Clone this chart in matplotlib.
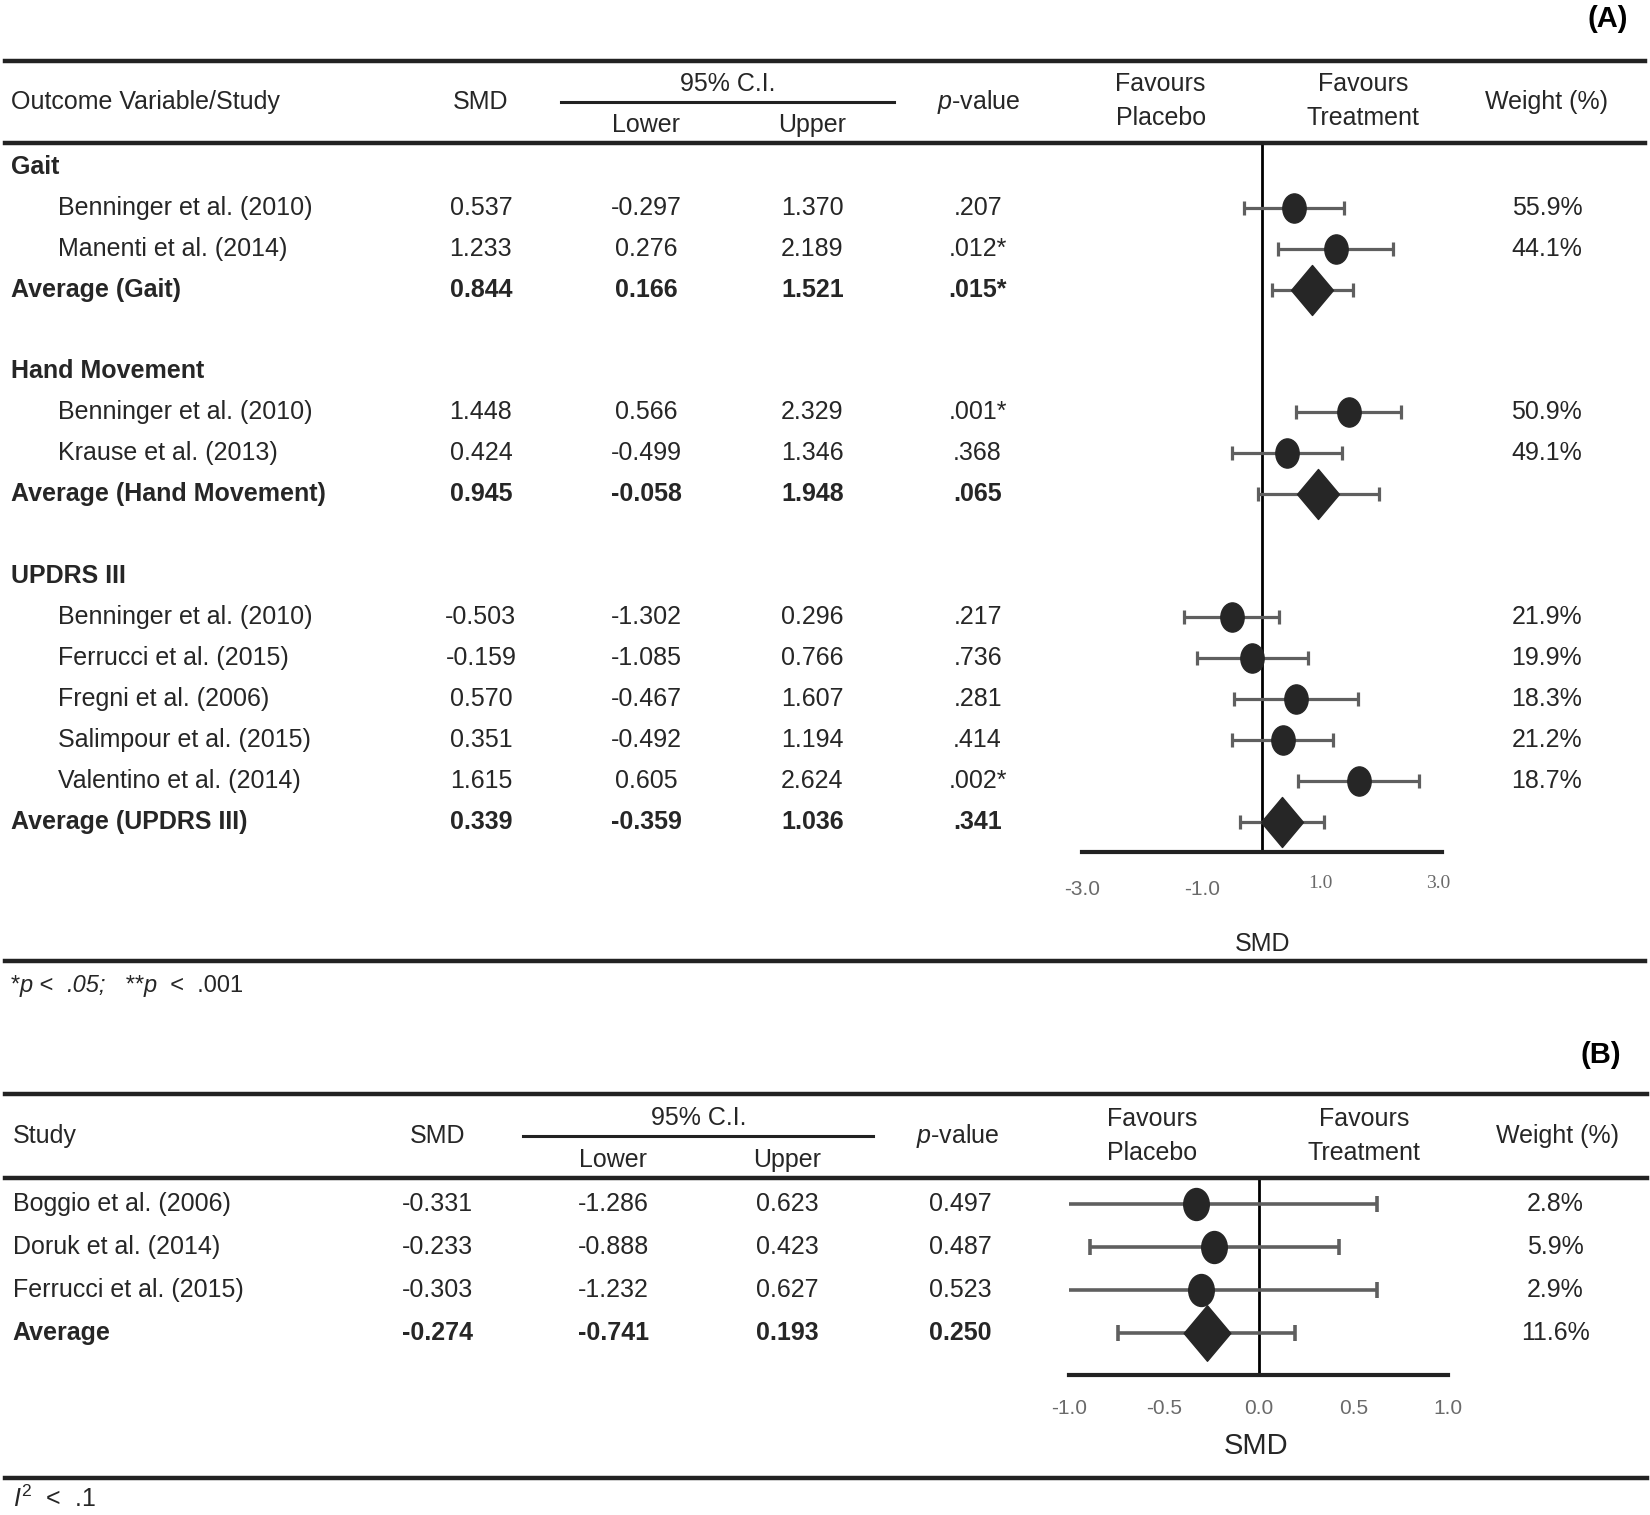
import numpy as np
import matplotlib
matplotlib.use("Agg")
import matplotlib.pyplot as plt
from matplotlib.lines import Line2D
from matplotlib.path import Path
from matplotlib.transforms import blended_transform_factory, offset_copy

plt.rcParams['font.family'] = ['Liberation Sans', 'DejaVu Sans']
plt.rcParams['mathtext.fontset'] = 'custom'
plt.rcParams['mathtext.rm'] = 'Liberation Sans'
plt.rcParams['mathtext.it'] = 'Liberation Sans:italic'
plt.rcParams['mathtext.bf'] = 'Liberation Sans:bold'

# ---- data: panel A ----
gait_studies = ["Benninger et al. (2010)", "Manenti et al. (2014)"]
gait_smd = [0.537, 1.233]
gait_lower = [-0.297, 0.276]
gait_upper = [1.370, 2.189]
gait_p = [".207", ".012*"]
gait_weight = ["55.9%", "44.1%"]
gait_avg = [0.844, 0.166, 1.521]
gait_avg_p = ".015*"

hand_studies = ["Benninger et al. (2010)", "Krause et al. (2013)"]
hand_smd = [1.448, 0.424]
hand_lower = [0.566, -0.499]
hand_upper = [2.329, 1.346]
hand_p = [".001*", ".368"]
hand_weight = ["50.9%", "49.1%"]
hand_avg = [0.945, -0.058, 1.948]
hand_avg_p = ".065"

updrs_studies = ["Benninger et al. (2010)", "Ferrucci et al. (2015)", "Fregni et al. (2006)",
                 "Salimpour et al. (2015)", "Valentino et al. (2014)"]
updrs_smd = [-0.503, -0.159, 0.570, 0.351, 1.615]
updrs_lower = [-1.302, -1.085, -0.467, -0.492, 0.605]
updrs_upper = [0.296, 0.766, 1.607, 1.194, 2.624]
updrs_p = [".217", ".736", ".281", ".414", ".002*"]
updrs_weight = ["21.9%", "19.9%", "18.3%", "21.2%", "18.7%"]
updrs_avg = [0.339, -0.359, 1.036]
updrs_avg_p = ".341"

sections = [
    ("Gait", gait_studies, gait_smd, gait_lower, gait_upper, gait_p, gait_weight, gait_avg, gait_avg_p),
    ("Hand Movement", hand_studies, hand_smd, hand_lower, hand_upper, hand_p, hand_weight, hand_avg, hand_avg_p),
    ("UPDRS III", updrs_studies, updrs_smd, updrs_lower, updrs_upper, updrs_p, updrs_weight, updrs_avg, updrs_avg_p),
]

# ---- data: panel B ----
b_studies = ["Boggio et al. (2006)", "Doruk et al. (2014)", "Ferrucci et al. (2015)"]
b_smd = [-0.331, -0.233, -0.303]
b_lower = [-1.286, -0.888, -1.232]
b_upper = [0.623, 0.423, 0.627]
b_p = ["0.497", "0.487", "0.523"]
b_weight = ["2.8%", "5.9%", "2.9%"]
b_avg = [-0.274, -0.741, 0.193]
b_avg_p = "0.250"
b_avg_weight = "11.6%"

a_ticks = [-3.0, -1.0, 1.0, 3.0]
b_ticks = [-1.0, -0.5, 0.0, 0.5, 1.0]

# ---- layout helpers (reference pixel grid) ----
W, H = 1568.0, 1440.0
def fx(x):
    return x / W
def fy(y):
    return 1 - y / H

TXT = '#262626'
ERR = '#5f5f5f'
MK = '#262626'
FS = 18

circ = Path(Path.unit_circle().vertices * np.array([0.8, 1.0]), Path.unit_circle().codes)
diam = Path([(-0.42, 0), (0, 0.5), (0.42, 0), (0, -0.5), (-0.42, 0)],
            [Path.MOVETO, Path.LINETO, Path.LINETO, Path.LINETO, Path.CLOSEPOLY])

fig = plt.figure(figsize=(16.5, 15.15), dpi=100)
renderer = fig.canvas.get_renderer()

def hline(y, x0, x1, lw=3.2):
    fig.add_artist(Line2D([fx(x0), fx(x1)], [fy(y), fy(y)], transform=fig.transFigure,
                          color='#222222', lw=lw))

def ftext(x, y, s, **kw):
    kw.setdefault('fontsize', FS)
    kw.setdefault('color', TXT)
    kw.setdefault('va', 'center')
    return fig.text(fx(x), fy(y), s, **kw)

def pieces(x, y, parts, fontsize=17):
    # lay out text runs with mixed styles one after another
    tr = fig.transFigure
    for s, style in parts:
        t = fig.text(fx(x), fy(y), s, transform=tr, fontsize=fontsize, color=TXT,
                     va='center', ha='left', fontstyle=style)
        ext = t.get_window_extent(renderer)
        tr = offset_copy(tr, fig=fig, x=ext.width, y=0, units='dots')

# ================= Panel A =================
ftext(1547, 18, "(A)", ha='right', fontweight='bold', fontsize=21, color='black')
hline(58, 5, 1563)
hline(136, 5, 1563)
ftext(10, 97, "Outcome Variable/Study", ha='left')
ftext(457, 97, "SMD", ha='center')
ftext(692, 80, "95% C.I.", ha='center')
hline(97, 533, 850, lw=2.2)
ftext(614, 119, "Lower", ha='center')
ftext(772, 119, "Upper", ha='center')
ftext(930, 97, "$p$-value", ha='center')
ftext(1103, 96, "Favours\nPlacebo", ha='center', linespacing=1.55)
ftext(1295, 96, "Favours\nTreatment", ha='center', linespacing=1.55)
ftext(1470, 97, "Weight (%)", ha='center')

row0, step = 158.5, 38.9
axA = fig.add_axes([fx(1028), fy(810), (1370 - 1028) / W, (810 - 136) / H])
axA.set_xlim(-3, 3)
axA.set_ylim((810 - row0) / step, (136 - row0) / step)
trA = blended_transform_factory(fig.transFigure, axA.transData)

def rowtext(ax_tr, x, r, s, **kw):
    kw.setdefault('fontsize', FS)
    kw.setdefault('color', TXT)
    fig.text(fx(x), r, s, transform=ax_tr, va='center', **kw)

r = 0
for name, studies, smd, lo, up, pv, wt, avg, avg_p in sections:
    rowtext(trA, 10, r, name, ha='left', fontweight='bold')
    r += 1
    rows = np.arange(r, r + len(studies))
    for i, rr in enumerate(rows):
        rowtext(trA, 55, rr, studies[i], ha='left')
        rowtext(trA, 457, rr, f"{smd[i]:.3f}", ha='center')
        rowtext(trA, 614, rr, f"{lo[i]:.3f}", ha='center')
        rowtext(trA, 772, rr, f"{up[i]:.3f}", ha='center')
        rowtext(trA, 929, rr, pv[i], ha='center')
        rowtext(trA, 1470, rr, wt[i], ha='center')
    smd_a = np.array(smd)
    axA.errorbar(smd_a, rows, xerr=[smd_a - np.array(lo), np.array(up) - smd_a], fmt='none',
                 ecolor=ERR, elinewidth=2.3, capsize=5, capthick=2.3, zorder=2)
    axA.plot(smd_a, rows, ls='none', marker=circ, ms=21, color=MK, zorder=3)
    r += len(studies)
    rowtext(trA, 10, r, f"Average ({name})", ha='left', fontweight='bold')
    rowtext(trA, 457, r, f"{avg[0]:.3f}", ha='center', fontweight='bold')
    rowtext(trA, 614, r, f"{avg[1]:.3f}", ha='center', fontweight='bold')
    rowtext(trA, 772, r, f"{avg[2]:.3f}", ha='center', fontweight='bold')
    rowtext(trA, 929, r, avg_p, ha='center', fontweight='bold')
    axA.errorbar([avg[0]], [r], xerr=[[avg[0] - avg[1]], [avg[2] - avg[0]]], fmt='none',
                 ecolor=ERR, elinewidth=2.3, capsize=5, capthick=2.3, zorder=2)
    axA.plot([avg[0]], [r], ls='none', marker=diam, ms=36, color=MK, zorder=3)
    r += 2

axA.axvline(0, color='black', lw=2, zorder=1)
for s in ['top', 'left', 'right']:
    axA.spines[s].set_visible(False)
axA.spines['bottom'].set_linewidth(3)
axA.spines['bottom'].set_color('#222222')
axA.set_xticks([])
axA.set_yticks([])
axA.patch.set_alpha(0)
trAx = blended_transform_factory(axA.transData, fig.transFigure)
for t in a_ticks:
    if t < 0:
        fig.text(t, fy(845), f"{t:.1f}", transform=trAx, ha='center', va='center',
                 fontsize=15, color='#6a6a6a')
    else:
        fig.text(t * 0.98, fy(840), f"{t:.1f}", transform=trAx, ha='center', va='center',
                 fontsize=14, color='#6a6a6a', family='Liberation Serif')
ftext(1200, 897, "SMD", ha='center')
hline(913, 5, 1563)
pieces(10, 937, [("*", 'normal'), ("p", 'italic'), (" <  ", 'normal'), (".05;", 'italic'),
                 ("   **", 'normal'), ("p", 'italic'), ("  <  .001", 'normal')])

# ================= Panel B =================
ftext(1541, 1003, "(B)", ha='right', fontweight='bold', fontsize=21, color='black')
hline(1040, 5, 1565)
hline(1120, 5, 1565)
ftext(12, 1080, "Study", ha='left')
ftext(416, 1080, "SMD", ha='center')
ftext(664, 1063, "95% C.I.", ha='center')
hline(1080, 497, 830, lw=2.2)
ftext(583, 1103, "Lower", ha='center')
ftext(748, 1103, "Upper", ha='center')
ftext(910, 1080, "$p$-value", ha='center')
ftext(1095, 1080, "Favours\nPlacebo", ha='center', linespacing=1.55)
ftext(1296, 1080, "Favours\nTreatment", ha='center', linespacing=1.55)
ftext(1480, 1080, "Weight (%)", ha='center')

b0, bstep = 1144.5, 40.7
axB = fig.add_axes([fx(1016), fy(1307), (1376 - 1016) / W, (1307 - 1120) / H])
axB.set_xlim(-1, 1)
axB.set_ylim((1307 - b0) / bstep, (1120 - b0) / bstep)
trB = blended_transform_factory(fig.transFigure, axB.transData)
rowsB = np.arange(len(b_studies))
for i, rr in enumerate(rowsB):
    rowtext(trB, 12, rr, b_studies[i], ha='left')
    rowtext(trB, 416, rr, f"{b_smd[i]:.3f}", ha='center')
    rowtext(trB, 583, rr, f"{b_lower[i]:.3f}", ha='center')
    rowtext(trB, 748, rr, f"{b_upper[i]:.3f}", ha='center')
    rowtext(trB, 913, rr, b_p[i], ha='center')
    rowtext(trB, 1478, rr, b_weight[i], ha='center')
ra = len(b_studies)
rowtext(trB, 12, ra, "Average", ha='left', fontweight='bold')
rowtext(trB, 416, ra, f"{b_avg[0]:.3f}", ha='center', fontweight='bold')
rowtext(trB, 583, ra, f"{b_avg[1]:.3f}", ha='center', fontweight='bold')
rowtext(trB, 748, ra, f"{b_avg[2]:.3f}", ha='center', fontweight='bold')
rowtext(trB, 913, ra, b_avg_p, ha='center', fontweight='bold')
rowtext(trB, 1478, ra, b_avg_weight, ha='center')

bs = np.array(b_smd)
axB.errorbar(bs, rowsB, xerr=[bs - np.array(b_lower), np.array(b_upper) - bs], fmt='none',
             ecolor=ERR, elinewidth=2.6, capsize=5.5, capthick=2.6, zorder=2)
axB.plot(bs, rowsB, ls='none', marker=circ, ms=23, color=MK, zorder=3)
axB.errorbar([b_avg[0]], [ra], xerr=[[b_avg[0] - b_avg[1]], [b_avg[2] - b_avg[0]]], fmt='none',
             ecolor=ERR, elinewidth=2.6, capsize=5.5, capthick=2.6, zorder=2)
axB.plot([b_avg[0]], [ra], ls='none', marker=diam, ms=40, color=MK, zorder=3)
axB.axvline(0, color='black', lw=2, zorder=1)
for s in ['top', 'left', 'right']:
    axB.spines[s].set_visible(False)
axB.spines['bottom'].set_linewidth(3)
axB.spines['bottom'].set_color('#222222')
axB.set_xticks([])
axB.set_yticks([])
axB.patch.set_alpha(0)
trBx = blended_transform_factory(axB.transData, fig.transFigure)
for t in b_ticks:
    fig.text(t, fy(1339), f"{t:.1f}", transform=trBx, ha='center', va='center',
             fontsize=15, color='#6a6a6a')
ftext(1194, 1374, "SMD", ha='center', fontsize=21)
hline(1405, 5, 1565)
ftext(12, 1425, r"$I^2$  <  .1", ha='left', fontsize=18)

fig.savefig("out.png", dpi=100, facecolor='white')
